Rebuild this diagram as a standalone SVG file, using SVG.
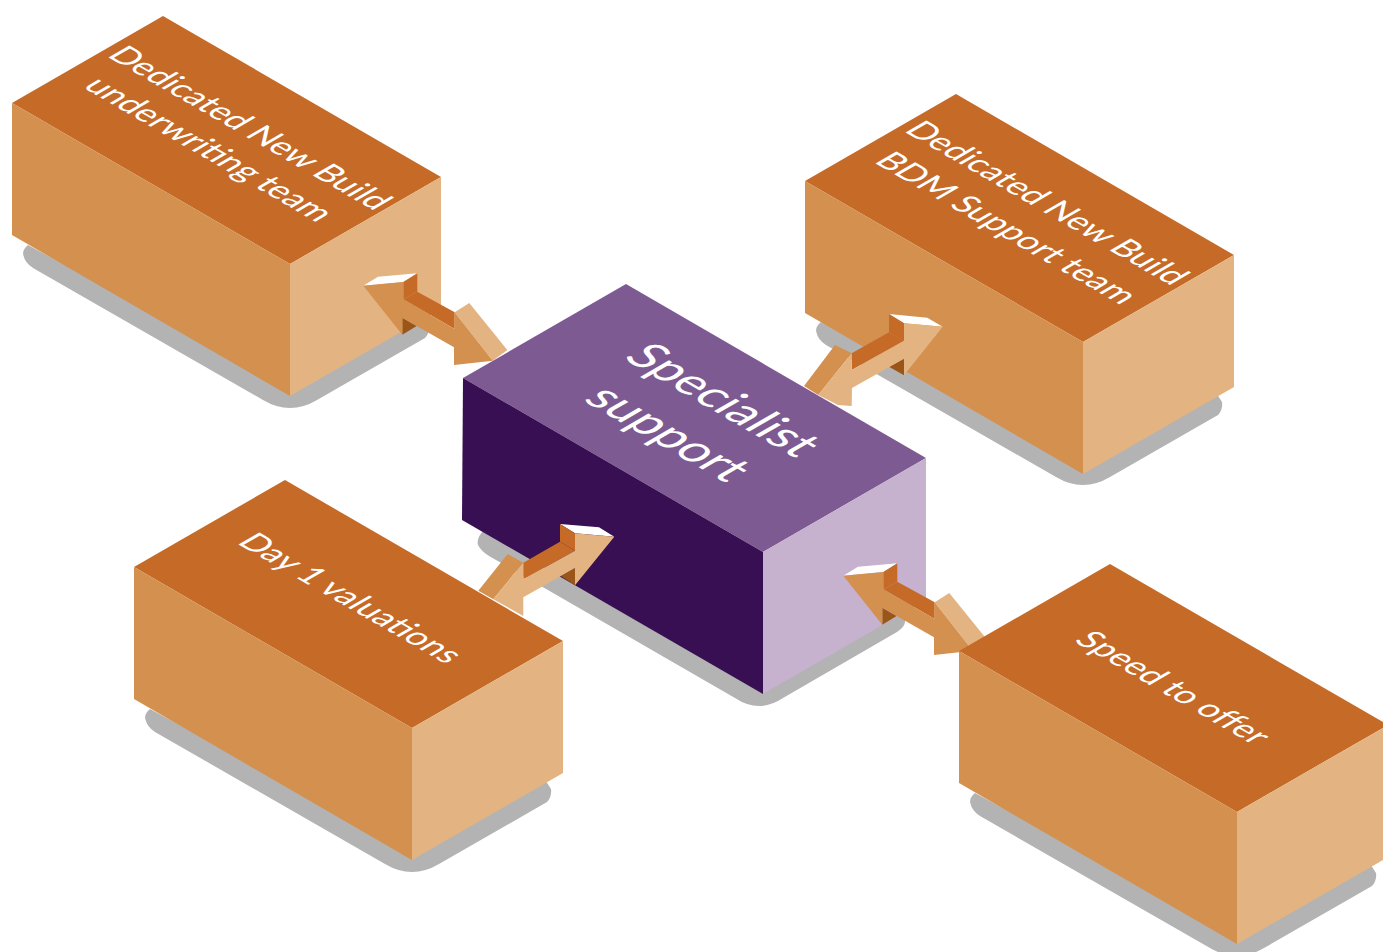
<svg xmlns="http://www.w3.org/2000/svg" xmlns:xlink="http://www.w3.org/1999/xlink" width="1383" height="952" viewBox="0 0 1383 952">
<style>
.sh{fill:#b3b3b3}
.t{fill:#c66a27}.l{fill:#d4904e}.r{fill:#e3b482}
.w{fill:#fff}.b{fill:#9a5518}
.lab{fill:#fff;font-family:"Lato","Liberation Sans",sans-serif;font-weight:400;font-size:33.500px}
.big{font-size:49px}
</style>
<defs>
<path id="shadow" class="sh" d="M-262,-151Q-268,-146-266.700,-141Q-265,-133-257,-128L-27,4Q0,20 27,4L135,-58Q140,-63 139,-71L130,-85L0,-10Z"/>
<g id="box">
<polygon class="t" points="0,0 151,-87 429,74 278,161"/>
<polygon class="l" points="0,0 278,161 278,293 0,132"/>
<polygon class="r" points="278,161 429,74 429,206 278,293"/>
</g>
<g id="arrowA">
<polygon class="r" points="454.700,312.300 469.300,303 507.300,350 492.700,360.700"/>
<polygon class="w" points="363.300,285.700 378,276.700 417.300,273.300 403.300,282"/>
<polygon class="t" points="403.300,282 417.300,273.300 417.300,291.700 403.300,299.300"/>
<polygon class="t" points="403.300,299.300 417.300,291.700 454.700,312.300 454.700,329"/>
<polygon class="b" points="402.300,317.700 416.700,326 402.300,334.700"/>
<polygon class="l" points="363.300,285.700 403.300,282 403.300,299.300 454.700,329 454.700,312.300 492.700,360.700 454,365 454,347.300 402.300,317.700 402.300,334.700"/>
</g>
</defs>
<g id="shadows-back">
<use xlink:href="#shadow" href="#shadow" transform="translate(290,396)"/>
<use xlink:href="#shadow" href="#shadow" transform="translate(1083,473)"/>
</g>
<g id="node-underwriting">
<use xlink:href="#box" href="#box" transform="translate(12,103)"/>
<text class="lab" transform="matrix(.866,.5,-.866,.5,106,56)">Dedicated New Build</text>
<text class="lab" transform="matrix(.866,.5,-.866,.5,82,87)">underwriting team</text>
</g>
<g id="node-bdm">
<use xlink:href="#box" href="#box" transform="translate(805,181)"/>
<text class="lab" transform="matrix(.866,.5,-.866,.5,903,131)">Dedicated New Build</text>
<text class="lab" transform="matrix(.866,.5,-.866,.5,873,162)">BDM Support team</text>
</g>
<g id="connectors-back">
<use xlink:href="#arrowA" href="#arrowA"/>
<g>
<polygon class="l" points="804,386 835,345 851.700,353.300 818.300,395"/>
<polygon class="w" points="889,314 927.300,317.700 942.700,326.700 904,323.300"/>
<polygon class="t" points="889,314 904,323.300 904,340.700 889,332.300"/>
<polygon class="t" points="851.700,353.300 889,332.300 904,340.700 851.700,370"/>
<polygon class="b" points="889,366.700 904,358.700 904,375.300"/>
<polygon class="r" points="818.300,395 851.700,353.300 851.700,370 904,340.700 904,323.300 942.700,326.700 904,375.300 904,358.700 852,388 851.700,406 838,405"/>
</g>
</g>
<g id="node-specialist">
<path class="sh" d="M484,530Q476,538 478,545Q481,551 489,556L735,698Q759,714 783,698L897,632Q906,626 905,620L900,600L763,680Z"/>
<polygon fill="#7e5a92" points="463,378 626,284 926,458 763,552"/>
<polygon fill="#380f52" points="463,378 763,552 763,694 462,520"/>
<polygon fill="#c6b1ce" points="763,552 926,458 926,600 763,694"/>
<text class="lab big" transform="matrix(.866,.5,-.866,.5,622,358)">Specialist</text>
<text class="lab big" transform="matrix(.866,.5,-.866,.5,582,400)">support</text>
</g>
<g id="connectors-front">
<g>
<polygon class="l" points="478.300,590.700 507.700,554 523.300,562.700 493.300,599.300"/>
<polygon class="w" points="560,524 599,527.300 614.300,536.700 575,533.300"/>
<polygon class="t" points="560,524 575,533.300 575,550.700 560,541.700"/>
<polygon class="t" points="523.300,562.700 560,541.700 575,550.700 523.300,579.300"/>
<polygon class="b" points="560.700,576 575,568 575,585.300"/>
<polygon class="r" points="493.300,599.300 523.300,562.700 523.300,579.300 575,550.700 575,533.300 614.300,536.700 575,585.300 575,568 523.300,597.300 523.300,616"/>
</g>
<use xlink:href="#arrowA" href="#arrowA" transform="translate(480,290)"/>
</g>
<g id="node-day1">
<use xlink:href="#shadow" href="#shadow" transform="translate(412,860)"/>
<use xlink:href="#box" href="#box" transform="translate(134,567)"/>
<text class="lab" transform="matrix(.866,.5,-.866,.5,236,543)">Day 1 valuations</text>
</g>
<g id="node-speed">
<use xlink:href="#shadow" href="#shadow" transform="translate(1237,944)"/>
<use xlink:href="#box" href="#box" transform="translate(959,651)"/>
<text class="lab" transform="matrix(.866,.5,-.866,.5,1073,641)">Speed to offer</text>
</g>
</svg>
